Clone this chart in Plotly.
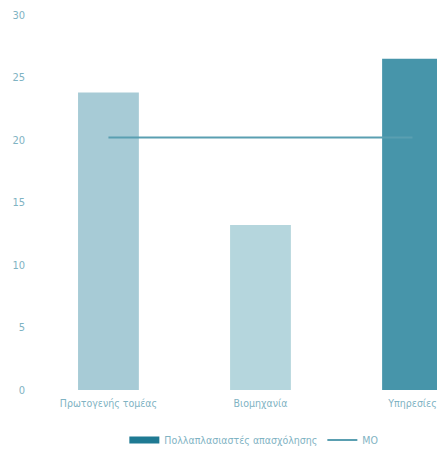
import plotly.graph_objects as go

categories = ["Πρωτογενής τομέας", "Βιομηχανία", "Υπηρεσίες"]
multipliers = [23.8, 13.2, 26.5]
mo_values = [20.2, 20.2, 20.2]
bar_colors = ["#a7cbd6", "#b5d6dd", "#4795aa"]
y_ticks = [0, 5, 10, 15, 20, 25, 30]

font_family = "DejaVu Sans Condensed, sans-serif"
text_color = "#7fb3c3"

fig = go.Figure()
fig.add_trace(go.Bar(
    x=categories, y=multipliers,
    marker=dict(color=bar_colors, line=dict(width=0)),
    width=0.4, showlegend=False,
))
# legend entry for the bars (drawn as a thick bar-like swatch)
fig.add_trace(go.Scatter(
    x=[None], y=[None], mode="lines", name="Πολλαπλασιαστές απασχόλησης",
    line=dict(color="#1f7a93", width=7),
))
fig.add_trace(go.Scatter(
    x=categories, y=mo_values, mode="lines", name="ΜΟ",
    line=dict(color="#5a9fb1", width=2),
))

fig.update_layout(
    width=437, height=449,
    margin=dict(l=30, r=0, t=15, b=59, autoexpand=False),
    plot_bgcolor="white", paper_bgcolor="white",
    barmode="overlay",
    font=dict(family=font_family, size=10.5, color=text_color),
    xaxis=dict(range=[-0.516, 2.161], showgrid=False, zeroline=False,
               showline=False, ticks="", ticklabelstandoff=5,
               tickfont=dict(size=10.5, color=text_color)),
    yaxis=dict(range=[0, 30], tickvals=y_ticks, showgrid=False, zeroline=False,
               showline=False, ticks="", ticklabelstandoff=4,
               tickfont=dict(size=11, color=text_color)),
    legend=dict(orientation="h", x=0.55, xanchor="center",
                yref="container", y=0.02, yanchor="middle",
                font=dict(size=10.5, color=text_color), itemwidth=30,
                tracegroupgap=0),
)

fig.write_html("out.html", config={"displayModeBar": False},
               post_script="document.body.style.margin='0';")
